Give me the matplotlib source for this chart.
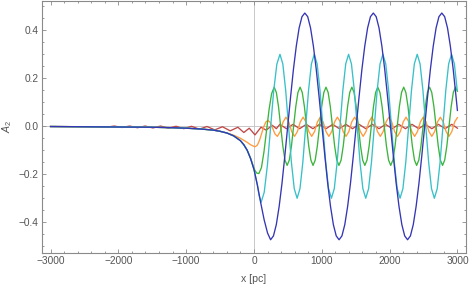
import numpy as np
import matplotlib
matplotlib.use("Agg")
import matplotlib.pyplot as plt
from matplotlib.ticker import MultipleLocator

# ---------------- data ----------------
# common left-hand decay (x < 0) followed by the blue transition
blue_x_left = [-3000, -2500, -2000, -1500, -1200, -1000, -800, -600, -500, -400,
               -300, -200, -150, -100, -50, 0, 50, 100, 150, 200]
blue_y_left = [-0.001, -0.002, -0.003, -0.004, -0.006, -0.008, -0.011, -0.016, -0.021, -0.028,
               -0.040, -0.060, -0.077, -0.100, -0.135, -0.180, -0.245, -0.320, -0.390, -0.445]
blue_osc_start, blue_osc_step = 245, 42.08
blue_osc_y = [-0.473, -0.457, -0.410, -0.334, -0.237, -0.122, 0.000, 0.122, 0.237, 0.334, 0.410, 0.457,
              0.472, 0.457, 0.410, 0.334, 0.237, 0.122, 0.000, -0.122, -0.237, -0.334, -0.410, -0.457,
              -0.473, -0.457, -0.410, -0.334, -0.237, -0.122, 0.000, 0.122, 0.237, 0.334, 0.410, 0.457,
              0.472, 0.457, 0.410, 0.334, 0.237, 0.122, 0.000, -0.122, -0.237, -0.334, -0.410, -0.457,
              -0.473, -0.457, -0.410, -0.334, -0.237, -0.122, 0.000, 0.122, 0.237, 0.334, 0.410, 0.457,
              0.472, 0.457, 0.410, 0.334, 0.237, 0.122]
blue_end = (3000, 0.066)

cyan_x_left = [-3000, -2500, -2000, -1500, -1200, -1000, -800, -600, -500, -400,
               -300, -200, -150, -100, -50, 0, 50, 75, 105, 151, 198, 244, 290, 337]
cyan_y_left = [-0.001, -0.002, -0.003, -0.004, -0.006, -0.008, -0.011, -0.016, -0.021, -0.028,
               -0.040, -0.060, -0.077, -0.100, -0.135, -0.180, -0.245, -0.288, -0.317, -0.275,
               -0.162, -0.008, 0.146, 0.259]
cyan_osc_start, cyan_osc_step = 383, 42.17
cyan_osc_y = [0.300, 0.260, 0.150, 0.000, -0.150, -0.260, -0.300, -0.260, -0.150, 0.000, 0.150, 0.260,
              0.300, 0.260, 0.150, 0.000, -0.150, -0.260, -0.300, -0.260, -0.150, 0.000, 0.150, 0.260,
              0.300, 0.260, 0.150, 0.000, -0.150, -0.260, -0.300, -0.260, -0.150, 0.000, 0.150, 0.260,
              0.300, 0.260, 0.150, 0.000, -0.150, -0.260, -0.300, -0.260, -0.150, 0.000, 0.150, 0.260,
              0.300, 0.260, 0.150, 0.000, -0.150, -0.260, -0.300, -0.260, -0.150, 0.000, 0.150, 0.260,
              0.300, 0.260, 0.150]

green_x_left = [-3000, -2500, -2000, -1500, -1200, -1000, -800, -600, -500, -400,
                -300, -200, -150, -100, -50, -20, 10, 40, 72, 110, 147, 185, 223, 260]
green_y_left = [-0.001, -0.002, -0.003, -0.004, -0.006, -0.008, -0.011, -0.016, -0.021, -0.028,
                -0.040, -0.060, -0.077, -0.100, -0.133, -0.158, -0.182, -0.195, -0.197, -0.172,
                -0.107, -0.018, 0.071, 0.136]
green_osc_start, green_osc_step = 298, 31.83
green_osc_y = [0.163, 0.141, 0.082, 0.000, -0.082, -0.141, -0.163, -0.141, -0.082, 0.000, 0.082, 0.141,
               0.163, 0.141, 0.082, 0.000, -0.082, -0.141, -0.163, -0.141, -0.082, 0.000, 0.082, 0.141,
               0.163, 0.141, 0.082, 0.000, -0.082, -0.141, -0.163, -0.141, -0.082, 0.000, 0.082, 0.141,
               0.163, 0.141, 0.082, 0.000, -0.082, -0.141, -0.163, -0.141, -0.082, 0.000, 0.082, 0.141,
               0.163, 0.141, 0.082, 0.000, -0.082, -0.141, -0.163, -0.141, -0.082, 0.000, 0.082, 0.141,
               0.163, 0.141, 0.082, 0.000, -0.082, -0.141, -0.163, -0.141, -0.082, 0.000, 0.082, 0.141,
               0.163, 0.141, 0.082, 0.000, -0.082, -0.141, -0.163, -0.141, -0.082, 0.000, 0.082, 0.141,
               0.163]
green_end = (3000, 0.146)

orange_x_left = [-3000, -2500, -2000, -1500, -1200, -1000, -800, -600, -500, -400,
                 -300, -200, -100, -50, 0, 20, 51, 82, 113, 144, 175, 205, 240, 275, 310]
orange_y_left = [-0.001, -0.002, -0.003, -0.004, -0.006, -0.008, -0.011, -0.016, -0.021, -0.028,
                 -0.037, -0.050, -0.067, -0.077, -0.084, -0.085, -0.078, -0.058, -0.030, -0.002,
                 0.018, 0.025, 0.016, -0.008, -0.032]
orange_osc_start, orange_osc_step = 345, 42.17
orange_osc_y = [-0.042, -0.022, 0.018, 0.038, 0.018, -0.022,
                -0.042, -0.022, 0.018, 0.038, 0.018, -0.022,
                -0.042, -0.022, 0.018, 0.038, 0.018, -0.022,
                -0.042, -0.022, 0.018, 0.038, 0.018, -0.022,
                -0.042, -0.022, 0.018, 0.038, 0.018, -0.022,
                -0.042, -0.022, 0.018, 0.038, 0.018, -0.022,
                -0.042, -0.022, 0.018, 0.038, 0.018, -0.022,
                -0.042, -0.022, 0.018, 0.038, 0.018, -0.022,
                -0.042, -0.022, 0.018, 0.038, 0.018, -0.022,
                -0.042, -0.022, 0.018, 0.038, 0.018, -0.022,
                -0.042, -0.022, 0.018]
orange_end = (3000, 0.036)

red_x_left = [-3000, -2400, -2175, -2061, -1947, -1833, -1719, -1605, -1491, -1377, -1263, -1149,
              -1035, -921, -807, -693, -579, -465, -351, -237, -150, -70, 15, 103, 180, 270, 330]
red_y_left = [-0.001, -0.002, -0.004, 0.001, -0.005, 0.001, -0.006, 0.001, -0.007, 0.001, -0.008, 0.000,
              -0.010, 0.000, -0.012, -0.001, -0.015, -0.002, -0.019, -0.004, -0.026, -0.008, -0.036,
              -0.004, -0.016, 0.004, -0.010]
red_osc_start, red_osc_step = 381, 48.75
red_osc_y = [0.008, -0.001, -0.010, -0.001] * 13 + [0.008, -0.001]
red_end = (3000, -0.008)

x_ticks = [-3000, -2000, -1000, 0, 1000, 2000, 3000]
y_ticks = [-0.4, -0.2, 0.0, 0.2, 0.4]

colors = {"blue": "#3535b5", "cyan": "#38c0c8", "green": "#3cb43c",
          "orange": "#ff9a3c", "red": "#c04848"}


def build(xl, yl, start, step, oy, end=None):
    xo = start + step * np.arange(len(oy))
    x = np.concatenate([xl, xo])
    y = np.concatenate([yl, oy])
    if end is not None:
        x = np.append(x, end[0])
        y = np.append(y, end[1])
    return x, y


series = [
    ("red", build(red_x_left, red_y_left, red_osc_start, red_osc_step, red_osc_y, red_end)),
    ("orange", build(orange_x_left, orange_y_left, orange_osc_start, orange_osc_step, orange_osc_y, orange_end)),
    ("green", build(green_x_left, green_y_left, green_osc_start, green_osc_step, green_osc_y, green_end)),
    ("cyan", build(cyan_x_left, cyan_y_left, cyan_osc_start, cyan_osc_step, cyan_osc_y)),
    ("blue", build(blue_x_left, blue_y_left, blue_osc_start, blue_osc_step, blue_osc_y, blue_end)),
]

# ---------------- figure ----------------
plt.rcParams["font.family"] = ["Liberation Sans", "DejaVu Sans"]
plt.rcParams["mathtext.fontset"] = "custom"
plt.rcParams["mathtext.it"] = "Liberation Sans:italic"
plt.rcParams["mathtext.rm"] = "Liberation Sans"

fig = plt.figure(figsize=(4.71, 2.87), dpi=100)
ax = fig.add_axes([0.0898, 0.1195, 0.8989, 0.8785])

frame_c = "#8a8a8a"
text_c = "#555555"

ax.axhline(0, color="#c8c8c8", lw=0.7, zorder=1)
ax.axvline(0, color="#c8c8c8", lw=0.7, zorder=1)

for name, (x, y) in series:
    ax.plot(x, y, color=colors[name], lw=0.95, zorder=2, solid_joinstyle="round")

ax.set_xlim(-3122, 3122)
ax.set_ylim(-0.527, 0.524)
ax.set_xticks(x_ticks)
ax.set_yticks(y_ticks)
ax.set_xticklabels([f"{v:d}".replace("-", "\u2212") for v in x_ticks])
ax.set_yticklabels([f"{v:.1f}".replace("-", "\u2212") for v in y_ticks])
ax.xaxis.set_minor_locator(MultipleLocator(200))
ax.yaxis.set_minor_locator(MultipleLocator(0.05))

for sp in ax.spines.values():
    sp.set_color(frame_c)
    sp.set_linewidth(0.8)

ax.tick_params(which="both", direction="in", top=True, right=True, color=frame_c,
               labelcolor=text_c, labelsize=7.3, width=0.6)
ax.tick_params(which="major", length=3.2, pad=2.5)
ax.tick_params(which="minor", length=1.7)

ax.set_xlabel("x [pc]", fontsize=7.6, color=text_c)
ax.set_ylabel("$A_2$", fontsize=7.6, color=text_c)
ax.xaxis.set_label_coords(0.5, -0.083)
ax.yaxis.set_label_coords(-0.068, 0.5)

fig.savefig("out.png", dpi=100)
